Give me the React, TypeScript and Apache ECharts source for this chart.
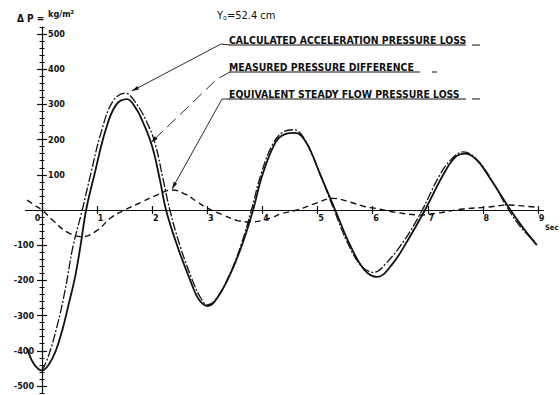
import React, { useEffect, useRef } from 'react';
import * as echarts from 'echarts';

// time (s) and pressure difference (kg/m²)
const measuredT = [-0.27, -0.15, 0, 0.12, 0.25, 0.37, 0.48, 0.6, 0.7, 0.8, 0.95, 1.15, 1.34, 1.54, 1.7, 1.83, 2.0, 2.14, 2.25, 2.45, 2.69, 2.85, 3.01, 3.2, 3.45, 3.65, 3.83, 4.0, 4.23, 4.4, 4.6, 4.8, 5.05, 5.32, 5.59, 5.85, 6.08, 6.35, 6.64, 6.95, 7.28, 7.5, 7.68, 7.9, 8.13, 8.5, 8.75, 8.98];
const measuredP = [-393, -437, -456, -440, -400, -340, -270, -190, -100, 0, 100, 225, 298, 315, 290, 250, 180, 85, 0, -100, -200, -255, -273, -245, -170, -90, 0, 100, 190, 215, 219, 190, 100, 0, -100, -170, -190, -155, -85, 0, 100, 150, 160, 140, 90, 0, -55, -100];

const calculatedT = [0, 0.11, 0.27, 0.42, 0.56, 0.73, 0.88, 1.08, 1.29, 1.51, 1.7, 1.9, 2.05, 2.2, 2.32, 2.5, 2.73, 2.88, 3.0, 3.15, 3.4, 3.62, 3.8, 3.97, 4.18, 4.38, 4.57, 4.75, 5.0, 5.3, 5.55, 5.8, 6.02, 6.25, 6.58, 6.9, 7.22, 7.45, 7.65, 7.88, 8.12, 8.47, 8.72, 8.95];
const calculatedP = [-456, -418, -332, -227, -105, 0, 100, 225, 310, 332, 305, 250, 190, 85, 0, -100, -200, -250, -270, -255, -185, -95, 0, 100, 185, 222, 228, 205, 120, 0, -95, -160, -177, -150, -85, 0, 100, 148, 165, 145, 95, 0, -55, -90];

const steadyT = [-0.27, -0.12, 0, 0.2, 0.45, 0.73, 1.0, 1.25, 1.5, 1.8, 2.05, 2.37, 2.6, 2.8, 3.0, 3.3, 3.55, 3.8, 4.14, 4.35, 4.63, 4.95, 5.28, 5.6, 5.85, 6.04, 6.4, 6.86, 7.17, 7.64, 8.07, 8.46, 8.75, 8.98];
const steadyP = [28, 12, 0, -30, -62, -76, -58, -22, 0, 22, 40, 57, 45, 25, 5, -15, -30, -34, -23, -10, 0, 18, 33, 22, 10, 5, -6, -14, -9, 3, 8, 14, 11, 8];

const xTickLabels = [0, 1, 2, 3, 4, 5, 6, 7, 8, 9];
const yLabelsPositive = [100, 200, 300, 400, 500];
const yLabelsNegative = [-500, -400, -300, -200, -100];
const yMajorTicks = [-500, -400, -300, -200, -100, 0, 100, 200, 300, 400, 500];

const FONT = '"DejaVu Sans Condensed", "DejaVu Sans", sans-serif';

const zip = (t: number[], p: number[]) => t.map((v, i) => [v, p[i]]);

// layout
const GRID_L = 25.5, GRID_R = 16.5, GRID_T = 27, GRID_B = 2;
const W = 560, H = 395;
const X_MIN = -0.3, X_MAX = 9.1, Y_MIN = -520, Y_MAX = 520;

export default function App() {
  const ref = useRef<HTMLDivElement>(null);

  useEffect(() => {
    document.body.style.margin = '0';
    const el = ref.current!;
    const chart = echarts.init(el, null, { renderer: 'svg' });

    const black = '#111';
    const plotW = W - GRID_L - GRID_R;
    const plotH = H - GRID_T - GRID_B;
    const zeroX = GRID_L + ((0 - X_MIN) / (X_MAX - X_MIN)) * plotW;
    const zeroY = GRID_T + ((Y_MAX - 0) / (Y_MAX - Y_MIN)) * plotH;
    const yOff = -(zeroX - GRID_L);
    const xOff = -(H - GRID_B - zeroY);

    const baseY = {
      type: 'value',
      min: Y_MIN,
      max: Y_MAX,
      interval: 20,
      position: 'left',
      offset: yOff,
      splitLine: { show: false },
      axisLine: { show: false, onZero: false },
      axisLabel: { show: false },
    };
    const baseX = {
      type: 'value',
      min: X_MIN,
      max: X_MAX,
      position: 'bottom',
      offset: xOff,
      splitLine: { show: false },
      axisLine: { show: false, onZero: false },
      axisLabel: { show: false },
    };
    const lbl = { color: black, fontFamily: FONT, fontWeight: 'bold', fontSize: 9 };
    const tickLine = (w: number) => ({ color: black, width: w });

    const option: any = {
      animation: false,
      backgroundColor: '#fff',
      grid: { left: GRID_L, right: GRID_R, top: GRID_T, bottom: GRID_B, containLabel: false, outerBoundsMode: 'none' },
      xAxis: [
        {
          ...baseX,
          axisLine: { show: true, onZero: false, lineStyle: { color: black, width: 1.2 } },
          axisTick: { show: true, customValues: xTickLabels, length: 4, lineStyle: tickLine(1.2) },
          axisLabel: {
            show: true,
            customValues: xTickLabels,
            margin: 3,
            ...lbl,
            formatter: (v: number) => (v === 0 ? '{z|0}' : '{n|' + v + '}'),
            rich: {
              z: { ...lbl, padding: [0, 9, 0, 0] },
              n: { ...lbl, padding: [0, 0, 0, 7] },
            },
          },
        },
        {
          ...baseX,
          axisTick: { show: true, inside: true, customValues: xTickLabels, length: 4, lineStyle: tickLine(1.2) },
        },
      ],
      yAxis: [
        {
          ...baseY,
          axisLine: { show: true, onZero: false, lineStyle: { color: black, width: 1.2 } },
          axisTick: { show: true, length: 2.5, lineStyle: tickLine(1) },
          axisLabel: { show: true, customValues: yLabelsNegative, margin: 8, ...lbl },
        },
        {
          ...baseY,
          axisTick: { show: true, inside: true, length: 2.5, lineStyle: tickLine(1) },
          axisLabel: { show: true, inside: true, customValues: yLabelsPositive, margin: 6, ...lbl },
        },
        {
          ...baseY,
          axisTick: { show: true, customValues: yMajorTicks, length: 5, lineStyle: tickLine(1.2) },
        },
        {
          ...baseY,
          axisTick: { show: true, inside: true, customValues: yMajorTicks, length: 5, lineStyle: tickLine(1.2) },
        },
      ],
      series: [
        {
          name: 'MEASURED PRESSURE DIFFERENCE',
          type: 'line',
          smooth: 0.4,
          showSymbol: false,
          data: zip(measuredT, measuredP),
          lineStyle: { color: black, width: 1.8 },
        },
        {
          name: 'CALCULATED ACCELERATION PRESSURE LOSS',
          type: 'line',
          smooth: 0.4,
          showSymbol: false,
          data: zip(calculatedT, calculatedP),
          lineStyle: { color: black, width: 1.3, type: [9, 2, 2, 2] },
        },
        {
          name: 'EQUIVALENT STEADY FLOW PRESSURE LOSS',
          type: 'line',
          smooth: 0.4,
          showSymbol: false,
          data: zip(steadyT, steadyP),
          lineStyle: { color: black, width: 1.4, type: [6, 4] },
        },
      ],
    };
    chart.setOption(option);

    const P = (t: number, v: number) => chart.convertToPixel({ xAxisIndex: 0, yAxisIndex: 0 }, [t, v]) as number[];
    const arrow = (from: number[], tip: number[]) => {
      const dx = tip[0] - from[0];
      const dy = tip[1] - from[1];
      const L = Math.hypot(dx, dy) || 1;
      const ux = dx / L, uy = dy / L;
      const nx = -uy, ny = ux;
      return [
        [tip[0], tip[1]],
        [tip[0] - ux * 7 + nx * 2, tip[1] - uy * 7 + ny * 2],
        [tip[0] - ux * 7 - nx * 2, tip[1] - uy * 7 - ny * 2],
      ];
    };

    const labels = [
      { text: 'CALCULATED ACCELERATION PRESSURE LOSS', y: 40, lineEnd: 466, tail: [472, 480], bend: [221, 44], tip: P(1.63, 338), dash: null as any },
      { text: 'MEASURED PRESSURE DIFFERENCE', y: 67, lineEnd: 420, tail: [432, 437], bend: [217, 79], tip: P(1.98, 192), dash: [12, 6] },
      { text: 'EQUIVALENT STEADY FLOW PRESSURE LOSS', y: 94, lineEnd: 466, tail: [472, 480], bend: [222, 99], tip: P(2.36, 60), dash: null as any },
    ];

    const g: any[] = [];
    labels.forEach((l) => {
      g.push({
        type: 'text',
        x: 229,
        y: l.y,
        style: { text: l.text, fill: black, font: `bold 10.4px ${FONT}`, verticalAlign: 'middle' },
      });
      g.push({ type: 'line', shape: { x1: 229, y1: l.y + 5, x2: l.lineEnd, y2: l.y + 5 }, style: { stroke: black, lineWidth: 1 } });
      g.push({ type: 'line', shape: { x1: l.tail[0], y1: l.y + 5, x2: l.tail[1], y2: l.y + 5 }, style: { stroke: black, lineWidth: 1 } });
      g.push({
        type: 'polyline',
        shape: { points: [[230, l.y + 5], l.bend, l.tip] },
        style: { stroke: black, lineWidth: 0.9, fill: null, lineDash: l.dash || undefined },
      });
      g.push({ type: 'polygon', shape: { points: arrow(l.bend, l.tip) }, style: { fill: black } });
    });

    // axis unit "Sec" just below-right of the last tick
    const p9 = P(9, 0);
    g.push({
      type: 'text',
      x: p9[0] + 7,
      y: p9[1] + 17,
      style: { text: 'Sec', fill: black, font: `bold 7.5px ${FONT}`, verticalAlign: 'middle' },
    });

    g.push({
      type: 'text',
      x: 17,
      y: 18,
      style: { text: 'Δ P =', fill: black, font: `bold 10px ${FONT}`, verticalAlign: 'middle' },
    });
    g.push({
      type: 'text',
      x: 48,
      y: 14,
      style: { text: 'kg/m²', fill: black, font: `bold 9px ${FONT}`, verticalAlign: 'middle' },
    });
    g.push({
      type: 'text',
      x: 217,
      y: 15,
      style: {
        text: '{a|Y}{s|o}{a|=52.4 cm}',
        verticalAlign: 'middle',
        rich: {
          a: { fill: black, fontFamily: FONT, fontSize: 11, fontWeight: 'normal' },
          s: { fill: black, fontFamily: FONT, fontSize: 7, padding: [5, 0, 0, 0] },
        },
      },
    });

    chart.setOption({ graphic: { elements: g } });

    return () => chart.dispose();
  }, []);

  return <div ref={ref} style={{ width: 560, height: 395 }} />;
}
